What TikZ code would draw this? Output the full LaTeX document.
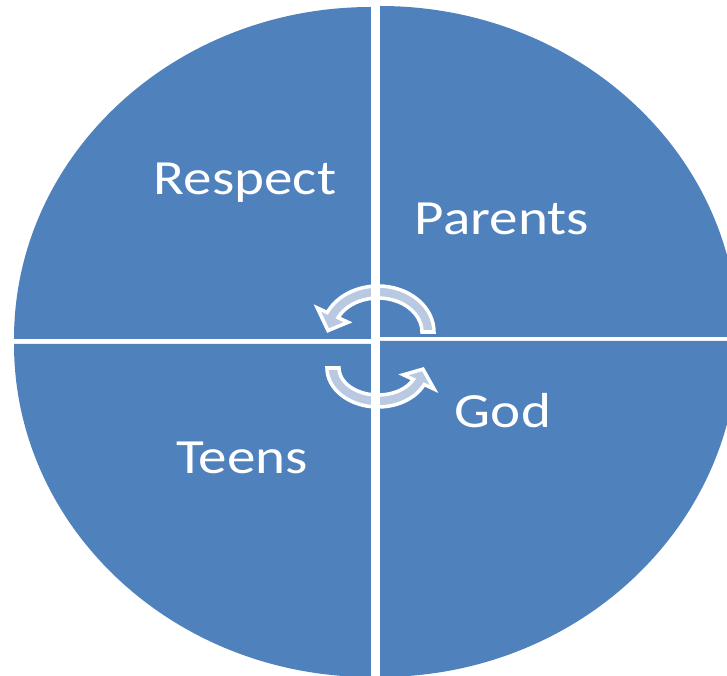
\documentclass[tikz,border=0pt]{standalone}
\usepackage{fontspec}
\setmainfont{Carlito}[FakeStretch=1.16]
\definecolor{pieblue}{RGB}{79,129,189}
\definecolor{arrowfill}{RGB}{185,201,226}
\begin{document}
\begin{tikzpicture}[x=0.02cm,y=0.02cm,
  lbl/.style={text=white,font=\fontsize{28}{33}\selectfont,anchor=base,inner sep=0pt},
  cycarrow/.style={fill=arrowfill,draw=white,line width=2pt,line join=miter}]
\useasboundingbox (-375,-336) rectangle (352,340);
\clip (-375,-336) rectangle (352,340);

% four quarters
\fill[pieblue] (-4,1) -- ++(-357,0) arc[start angle=180,end angle=90,x radius=357,y radius=332] -- cycle;
\fill[pieblue] (5,3) -- ++(0,331) arc[start angle=90,end angle=0,x radius=358,y radius=331] -- cycle;
\fill[pieblue] (-4,-4) -- ++(-357,0) arc[start angle=180,end angle=270,x radius=357,y radius=333] -- cycle;
\fill[pieblue] (5,-1) -- ++(358,0) arc[start angle=0,end angle=-90,x radius=358,y radius=336] -- cycle;

% circular arrows
\begin{scope}[shift={(3,8)}]
\filldraw[cycarrow] (0:44 and 34) -- (0:56 and 46) arc[start angle=0,end angle=155,x radius=56,y radius=46]
  -- (155:67 and 57) -- (178:50 and 40) -- (155:33 and 23) -- (155:44 and 34)
  arc[start angle=155,end angle=0,x radius=44,y radius=34] -- cycle;
\end{scope}
\begin{scope}[shift={(3,-28)}]
\filldraw[cycarrow] (180:39 and 27) -- (180:51 and 39) arc[start angle=180,end angle=335,x radius=51,y radius=39]
  -- (335:62 and 50) -- (358:45 and 33) -- (335:28 and 16) -- (335:39 and 27)
  arc[start angle=335,end angle=180,x radius=39,y radius=27] -- cycle;
\end{scope}

\fill[white] (-4,-340) rectangle (5,345);

\node[lbl] (respect) at (-130,145) {Respect};
\node[lbl] (parents) at (127,105) {Parents};
\node[lbl] (god) at (128,-88) {God};
\node[lbl] (teens) at (-133,-133) {Teens};
\end{tikzpicture}
\end{document}
